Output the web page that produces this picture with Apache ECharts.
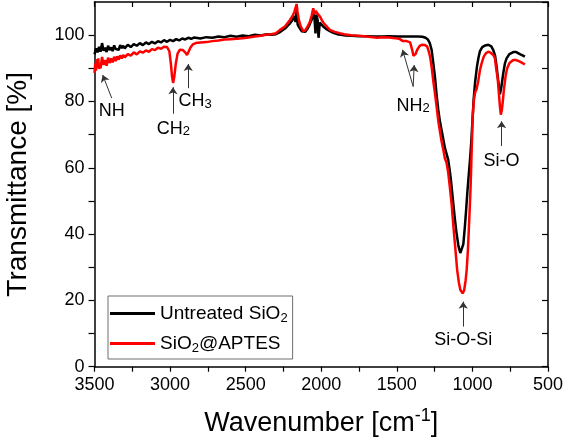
<!DOCTYPE html>
<html lang="en">
<head>
    <meta charset="UTF-8">
    <title>FTIR</title>
    <script type="text/javascript" src="https://cdn.jsdelivr.net/npm/echarts@6/dist/echarts.min.js"></script>
    <style>
        html, body {margin: 0; padding: 0; background: #fff;}
        #chart {width: 564px; height: 443px;}
    </style>
</head>
<body>
<div id="chart"></div>
<script>
    // Untreated SiO2 (black)
    var untreatedWn = [3500, 3490, 3480, 3470, 3460, 3450, 3440, 3430, 3420, 3410, 3400, 3390, 3380, 3370, 3360, 3350, 3340, 3330, 3320, 3310,
        3300, 3280, 3260, 3240, 3220, 3200, 3180, 3160, 3140, 3120, 3100, 3080, 3060, 3040, 3020, 3000, 2980, 2960, 2940, 2920,
        2900, 2880, 2860, 2840, 2800, 2760, 2720, 2680, 2640, 2600, 2560, 2520, 2480, 2440, 2400, 2360, 2330, 2300,
        2270, 2240, 2210, 2190, 2178, 2170, 2163, 2156, 2145, 2130, 2119, 2105, 2090, 2075, 2062, 2053, 2045, 2038, 2032, 2024,
        2018, 2010, 2000, 1985, 1965, 1943, 1920, 1895, 1870, 1840, 1800, 1750, 1700, 1650, 1600, 1550, 1500, 1450, 1400, 1360,
        1330, 1310, 1295, 1282, 1270, 1260, 1248, 1237, 1226, 1215, 1204, 1182, 1160, 1148, 1138, 1127, 1116, 1105, 1092, 1080,
        1070, 1060, 1050, 1042, 1034, 1025, 1016, 1008, 1000, 992, 983, 970, 960, 950, 935, 915, 895, 875, 862, 850,
        840, 830, 818, 808, 796, 785, 774, 755, 730, 710, 686, 665, 653];
    var untreatedT = [94.2, 96.0, 94.8, 96.5, 95.0, 97.6, 95.3, 96.2, 94.9, 96.8, 95.5, 96.3, 95.2, 96.9, 95.8, 96.4, 95.6, 97.0, 96.1, 96.8,
        96.0, 97.1, 96.4, 97.3, 96.8, 97.6, 97.0, 97.8, 97.3, 98.0, 97.5, 98.2, 97.8, 98.5, 98.0, 98.6, 98.2, 98.8, 98.4, 99.0,
        98.7, 99.2, 98.9, 99.3, 99.0, 99.4, 99.2, 99.6, 99.4, 99.8, 99.5, 99.9, 99.7, 100.1, 99.9, 100.3, 100.1, 100.3,
        101.0, 102.0, 103.4, 104.6, 105.8, 104.0, 107.6, 103.2, 102.3, 101.2, 100.6, 101.0, 102.0, 103.4, 104.8, 106.6, 105.2, 100.5, 106.2, 104.6,
        99.2, 103.8, 103.2, 102.5, 101.8, 101.2, 100.7, 100.3, 100.1, 99.9, 99.8, 99.7, 99.7, 99.6, 99.6, 99.7, 99.6, 99.6, 99.6, 99.6,
        99.5, 99.2, 98.7, 97.6, 95.6, 92.0, 87.5, 82.0, 77.5, 74.0, 71.4, 66.0, 62.4, 58.5, 54.5, 49.4, 44.5, 40.3, 36.3, 34.3,
        34.6, 37.0, 42.2, 47.0, 52.3, 57.5, 62.4, 67.5, 74.0, 80.5, 85.5, 90.5, 93.2, 95.2, 96.4, 96.9, 97.1, 96.6, 95.5, 93.8,
        90.5, 86.5, 82.2, 84.5, 88.5, 91.5, 93.0, 94.3, 94.9, 94.9, 94.3, 93.8, 93.5];

    // SiO2@APTES (red)
    var aptesWn = [3500, 3495, 3490, 3485, 3480, 3475, 3470, 3465, 3460, 3450, 3440, 3430, 3420, 3410, 3400, 3390, 3380, 3370, 3360, 3350,
        3340, 3330, 3320, 3310, 3300, 3280, 3260, 3240, 3220, 3200, 3180, 3160, 3140, 3120, 3100, 3080, 3060, 3040, 3020, 3005,
        2995, 2987, 2980, 2972, 2962, 2950, 2935, 2915, 2900, 2888, 2878, 2865, 2850, 2830, 2800, 2760, 2720, 2680, 2640, 2600,
        2560, 2520, 2480, 2440, 2400, 2360, 2330, 2300, 2273, 2240, 2207, 2190, 2178, 2170, 2163, 2157, 2148, 2135, 2119, 2105,
        2090, 2075, 2063, 2053, 2044, 2036, 2025, 2008, 1995, 1980, 1960, 1943, 1910, 1877, 1850, 1800, 1750, 1700, 1660, 1630,
        1600, 1550, 1510, 1480, 1460, 1447, 1435, 1425, 1412, 1400, 1390, 1384, 1376, 1365, 1350, 1336, 1314, 1300, 1292, 1280,
        1270, 1259, 1248, 1237, 1226, 1215, 1204, 1190, 1182, 1171, 1160, 1150, 1138, 1127, 1116, 1108, 1101, 1090, 1080, 1065,
        1055, 1045, 1038, 1030, 1023, 1017, 1012, 1005, 998, 990, 982, 972, 962, 950, 939, 925, 910, 895, 880, 862,
        851, 843, 833, 825, 818, 812, 805, 798, 792, 780, 770, 755, 730, 710, 686, 665, 653];
    var aptesT = [88.6, 91.5, 89.3, 92.8, 90.2, 93.0, 89.8, 91.2, 90.0, 93.4, 91.0, 92.5, 90.8, 93.2, 91.6, 93.0, 91.8, 93.5, 92.2, 93.6,
        92.6, 93.9, 93.0, 94.0, 93.3, 94.3, 93.8, 94.8, 94.2, 95.1, 94.7, 95.4, 95.0, 95.8, 95.5, 96.2, 95.9, 96.5, 96.4, 95.2,
        91.5, 87.5, 85.6, 87.5, 91.5, 94.5, 95.6, 95.5, 94.8, 94.0, 94.6, 96.3, 97.2, 97.6, 97.8, 97.9, 98.2, 98.4, 98.7, 98.8,
        98.9, 99.1, 99.3, 99.6, 99.8, 100.2, 100.3, 100.6, 101.6, 102.6, 104.6, 105.8, 107.0, 108.2, 109.4, 107.0, 104.5, 102.6, 101.2, 101.5,
        102.6, 104.0, 106.0, 108.1, 106.4, 107.3, 106.5, 105.6, 104.4, 103.4, 102.4, 101.6, 101.0, 100.6, 100.3, 100.0, 99.8, 99.6, 99.4, 99.2,
        99.4, 99.3, 99.1, 98.8, 98.2, 97.6, 98.2, 98.6, 97.8, 95.8, 93.8, 93.5, 94.3, 95.6, 96.7, 97.1, 97.0, 96.6, 95.6, 93.5,
        90.5, 86.2, 82.5, 78.5, 74.2, 71.0, 68.0, 64.8, 62.8, 61.5, 58.5, 54.5, 49.3, 43.0, 37.2, 33.0, 29.2, 25.5, 23.2, 22.1,
        23.0, 26.0, 29.2, 35.0, 42.2, 48.5, 54.3, 65.0, 75.5, 80.5, 82.8, 83.8, 86.0, 89.5, 91.5, 93.5, 94.6, 95.0, 94.7, 94.0,
        93.0, 90.0, 87.0, 82.5, 78.5, 76.0, 77.5, 80.5, 83.5, 87.8, 90.0, 91.6, 92.5, 92.5, 92.0, 91.5, 91.2];

    var seriesNames = ['Untreated SiO2', 'SiO2@APTES'];

    // band labels: text, wavenumber, transmittance of the label centre
    var bandLabels = [
        {text: 'NH', wn: 3386, t: 77.2},
        {text: 'CH{sub|2}', wn: 2978, t: 71.8},
        {text: 'CH{sub|3}', wn: 2835, t: 80.0},
        {text: 'NH{sub|2}', wn: 1393, t: 78.6},
        {text: 'Si-O', wn: 808, t: 62.0},
        {text: 'Si-O-Si', wn: 1061, t: 8.0}
    ];
    // arrows: [from wn, from t, to wn, to t]
    var bandArrows = [
        [3386, 81.0, 3446, 88.0],
        [2981, 76.3, 2981, 84.3],
        [2880, 84.0, 2880, 91.3],
        [1392, 84.5, 1462, 95.6],
        [1392, 84.5, 1385, 91.0],
        [807, 66.6, 807, 74.0],
        [1061, 12.1, 1061, 19.6]
    ];

    function pairs(xs, ys) {
        var out = [];
        for (var i = 0; i < xs.length; i++) out.push([xs[i], ys[i]]);
        return out;
    }

    var font = 'Liberation Sans, Arial, sans-serif';
    var subRich = {
        sub: {fontSize: 13, fontFamily: font, color: '#000', lineHeight: 13, padding: [11, 0, 0, 0], verticalAlign: 'bottom'}
    };

    var chart = echarts.init(document.getElementById('chart'), null, {renderer: 'canvas'});
    chart.setOption({
        animation: false,
        backgroundColor: '#fff',
        textStyle: {fontFamily: font},
        grid: {left: 94.5, right: 16, top: 2, bottom: 76.3, outerBoundsMode: 'none'},
        legend: {
            orient: 'vertical',
            left: 108, top: 296,
            padding: [4, 5, 4, 2],
            itemGap: 5,
            itemWidth: 45,
            itemHeight: 3,
            icon: 'rect',
            borderColor: '#6f6f6f',
            borderWidth: 1,
            data: seriesNames,
            formatter: function (name) {
                return name.replace('SiO2', 'SiO{sub|2}');
            },
            textStyle: {
                fontSize: 19, color: '#000', fontFamily: font, lineHeight: 23,
                rich: {sub: {fontSize: 13, fontFamily: font, color: '#000', lineHeight: 13, padding: [12, 0, 0, 0], verticalAlign: 'bottom'}}
            }
        },
        xAxis: [{
            type: 'value', inverse: true, min: 500, max: 3500, interval: 250,
            name: 'Wavenumber [cm{sup|-1}]',
            nameLocation: 'middle', nameGap: 40,
            nameTextStyle: {
                fontSize: 27, color: '#000', fontFamily: font, lineHeight: 34, verticalAlign: 'top',
                rich: {sup: {fontSize: 18, fontFamily: font, color: '#000', lineHeight: 18, verticalAlign: 'top'}}
            },
            axisLine: {show: true, onZero: false, lineStyle: {color: '#000', width: 1.5}},
            axisTick: {show: true, inside: false, length: 5, lineStyle: {color: '#000', width: 1.2}},
            axisLabel: {
                fontSize: 18, color: '#000', margin: 9, showMinLabel: true, showMaxLabel: true,
                formatter: function (v) { return v % 500 === 0 ? String(v) : ''; }
            },
            splitLine: {show: false}
        }, {
            type: 'value', inverse: true, min: 500, max: 3500, interval: 250, position: 'top',
            axisLine: {show: true, onZero: false, lineStyle: {color: '#000', width: 1.5}},
            axisTick: {show: true, inside: true, length: 5, lineStyle: {color: '#000', width: 1.2}},
            axisLabel: {show: false},
            splitLine: {show: false}
        }],
        yAxis: [{
            type: 'value', min: 0, max: 110, interval: 10,
            name: 'Transmittance [%]',
            nameLocation: 'middle', nameGap: 62,
            nameTextStyle: {fontSize: 28, color: '#000', fontFamily: font},
            axisLine: {show: true, onZero: false, lineStyle: {color: '#000', width: 1.5}},
            axisTick: {show: true, inside: false, length: 6, lineStyle: {color: '#000', width: 1.2}},
            axisLabel: {
                fontSize: 18, color: '#000', margin: 10, showMaxLabel: false,
                formatter: function (v) { return v % 20 === 0 ? String(v) : ''; }
            },
            splitLine: {show: false}
        }, {
            type: 'value', min: 0, max: 110, interval: 10, position: 'right',
            axisLine: {show: true, onZero: false, lineStyle: {color: '#000', width: 1.5}},
            axisTick: {show: true, inside: true, length: 6, lineStyle: {color: '#000', width: 1.2}},
            axisLabel: {show: false},
            splitLine: {show: false}
        }],
        series: [{
            name: seriesNames[0], type: 'line', xAxisIndex: 0, yAxisIndex: 0,
            data: pairs(untreatedWn, untreatedT),
            showSymbol: false, symbol: 'none',
            lineStyle: {color: '#000', width: 2.5},
            itemStyle: {color: '#000'}
        }, {
            name: seriesNames[1], type: 'line', xAxisIndex: 0, yAxisIndex: 0,
            data: pairs(aptesWn, aptesT),
            showSymbol: false, symbol: 'none',
            lineStyle: {color: '#ff0000', width: 2.5},
            itemStyle: {color: '#ff0000'},
            markLine: {
                silent: true,
                symbol: ['none', 'arrow'],
                symbolSize: 7,
                label: {show: false},
                lineStyle: {color: '#333', width: 1, type: 'solid'},
                data: bandArrows.map(function (a) {
                    return [{coord: [a[0], a[1]]}, {coord: [a[2], a[3]]}];
                })
            },
            markPoint: {
                silent: true,
                symbol: 'circle',
                symbolSize: 1,
                itemStyle: {color: 'rgba(0,0,0,0)'},
                label: {
                    show: true, position: 'inside', color: '#000', fontSize: 18, fontFamily: font,
                    rich: subRich
                },
                data: bandLabels.map(function (b) {
                    return {coord: [b.wn, b.t], label: {formatter: b.text}};
                })
            }
        }]
    });
</script>
</body>
</html>
